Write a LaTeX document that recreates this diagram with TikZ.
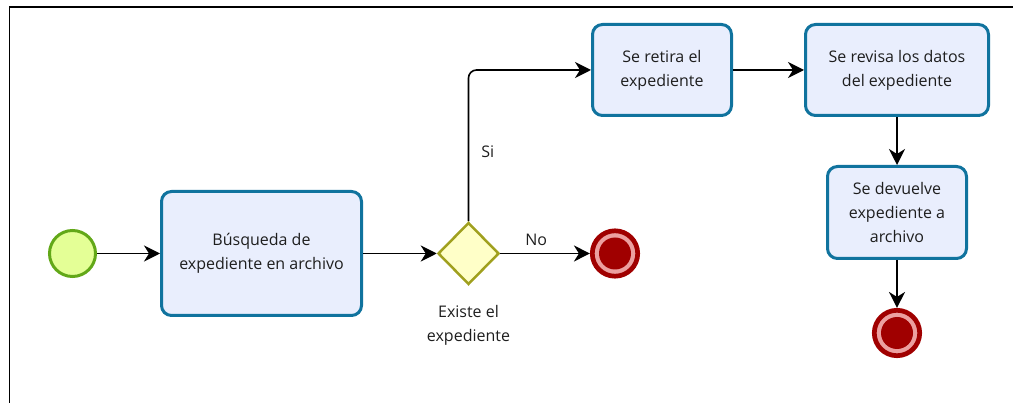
\documentclass[tikz,border=0pt]{standalone}
\usepackage{fontspec}
\setmainfont{Open Sans}
\usetikzlibrary{shapes.geometric,arrows.meta}
\definecolor{taskfill}{RGB}{233,238,253}
\definecolor{taskdraw}{RGB}{16,115,158}
\definecolor{startfill}{RGB}{228,255,150}
\definecolor{startdraw}{RGB}{98,168,24}
\definecolor{gwfill}{RGB}{255,255,200}
\definecolor{gwdraw}{RGB}{160,160,30}
\definecolor{enddark}{RGB}{160,0,0}
\definecolor{endpink}{RGB}{236,160,160}
\definecolor{txt}{RGB}{30,30,30}
\tikzset{
  x=1pt, y=-1pt,
  every node/.style={font=\fontsize{16}{24}\selectfont, text=txt},
  task/.style={draw=taskdraw, fill=taskfill, line width=3pt, rounded corners=10pt, align=center, inner sep=2pt},
  startev/.style={circle, draw=startdraw, fill=startfill, line width=3pt, minimum size=46pt, inner sep=0pt},
  gateway/.style={diamond, draw=gwdraw, fill=gwfill, line width=2.5pt, minimum width=61pt, minimum height=62pt, inner sep=0pt, aspect=1},
  endev/.style={circle, draw=enddark, fill=endpink, line width=4.7pt, minimum size=45.4pt, inner sep=0pt},
  endcore/.style={circle, fill=enddark, minimum size=32pt, inner sep=0pt},
  flow/.style={draw=black, line width=1.6pt, -{Stealth[length=16pt,width=16pt,inset=5pt]}},
  lbl/.style={align=center, inner sep=0pt}
}
\begin{document}
\begin{tikzpicture}
\useasboundingbox (0,0) rectangle (1013,403);
\draw[line width=1.4pt] (9.5,403) -- (9.5,7) -- (1013,7);

\node[startev] (start) at (72.5,253.5) {};
\node[task, minimum width=200pt, minimum height=124pt] (busq) at (261.5,253.5) {Búsqueda de\\expediente en archivo};
\node[gateway] (gw) at (468.5,253.5) {};
\node[lbl] (gwlabel) at (468.5,325) {Existe el\\expediente};
\node[endev] (end1) at (615,253.5) {};
\node[endcore] (end1c) at (615,253.5) {};

\node[task, minimum width=139pt, minimum height=91pt] (retira) at (662,70) {Se retira el\\expediente};
\node[task, minimum width=183pt, minimum height=91pt] (revisa) at (897,70) {Se revisa los datos\\del expediente};
\node[task, minimum width=139pt, minimum height=92pt] (devuelve) at (897,212.5) {Se devuelve\\expediente a\\archivo};
\node[endev] (end2) at (897,333) {};
\node[endcore] (end2c) at (897,333) {};

\draw[flow] (start) -- (busq);
\draw[flow] (busq) -- (gw);
\draw[flow] (gw.east) -- node[pos=0.4, above=7pt, inner sep=0pt] (nolbl) {No} (end1);
\draw[flow, rounded corners=8pt] (gw.north) |- node[pos=0.23, right=12pt, inner sep=0pt] (silbl) {Si} (retira.west);
\draw[flow] (retira) -- (revisa);
\draw[flow] (revisa) -- (devuelve);
\draw[flow] (devuelve) -- (end2);
\end{tikzpicture}
\end{document}
